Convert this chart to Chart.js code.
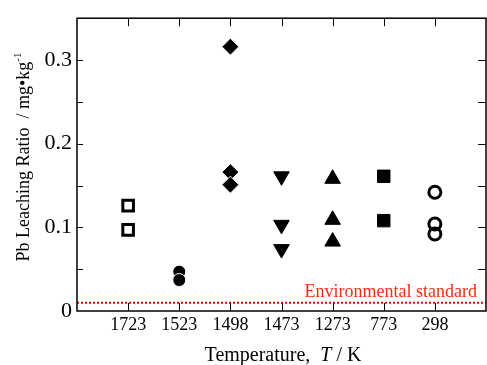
<!DOCTYPE html>
<html>
<head>
<meta charset="utf-8">
<script src="https://cdn.jsdelivr.net/npm/chart.js@4.4.0/dist/chart.umd.min.js"></script>
<style>
  body { margin: 0; background: #fff; }
</style>
</head>
<body>
<canvas id="myChart" width="487" height="365"></canvas>
<script>
// categories on the x axis (temperature, K)
const categories = ['1723', '1523', '1498', '1473', '1273', '773', '298'];
const yTickLabels = ['0', '0.1', '0.2', '0.3'];

// Pb leaching ratio, mg/kg
const openSquare = [0.126, 0.097];         // 1723 K
const filledCircle = [0.047, 0.037];       // 1523 K
const diamond = [0.316, 0.166, 0.151];     // 1498 K
const downTriangle = [0.161, 0.103, 0.074]; // 1473 K
const upTriangle = [0.158, 0.109, 0.083];  // 1273 K
const filledSquare = [0.161, 0.108];       // 773 K
const openCircle = [0.142, 0.104, 0.092];  // 298 K
const standard = 0.01;

const FONT = "'Liberation Serif', 'Times New Roman', serif";
var ctx = document.getElementById('myChart').getContext('2d');

function pts(catIndex, values) {
    return values.map(v => ({ x: catIndex + 1, y: v }));
}

function markerSet(catIndex, values, style, opts) {
    return Object.assign({
        data: pts(catIndex, values),
        pointStyle: style,
        backgroundColor: '#000',
        borderColor: '#000',
        borderWidth: 1,
        showLine: false
    }, opts);
}

// frame with inward ticks, titles, and the standard label
const decorations = {
    id: 'decorations',
    afterDraw(chart) {
        const c = chart.ctx;
        const a = chart.chartArea;
        const xs = chart.scales.x;
        const ys = chart.scales.y;
        c.save();
        c.strokeStyle = '#000';
        c.lineWidth = 1.5;
        c.strokeRect(a.left, a.top, a.right - a.left, a.bottom - a.top);

        c.lineWidth = 1;
        c.beginPath();
        for (let i = 0; i < categories.length; i++) {
            const px = Math.round(xs.getPixelForValue(i + 1)) + 0.5;
            c.moveTo(px, a.bottom); c.lineTo(px, a.bottom - 8);
            c.moveTo(px, a.top); c.lineTo(px, a.top + 8);
        }
        for (let v = 0.05; v < 0.35; v += 0.05) {
            const py = Math.round(ys.getPixelForValue(v)) + 0.5;
            c.moveTo(a.left, py); c.lineTo(a.left + 6, py);
            c.moveTo(a.right, py); c.lineTo(a.right - 8, py);
        }
        c.stroke();

        // standard label
        c.fillStyle = '#ff2a10';
        c.font = '18px ' + FONT;
        c.textAlign = 'right';
        c.textBaseline = 'alphabetic';
        c.fillText('Environmental standard', 477, ys.getPixelForValue(standard) - 6);

        // x title
        c.fillStyle = '#000';
        c.textAlign = 'left';
        const p1 = 'Temperature,  ', p2 = 'T', p3 = ' / K';
        c.font = '20px ' + FONT;
        const w1 = c.measureText(p1).width, w3 = c.measureText(p3).width;
        c.font = 'italic 20px ' + FONT;
        const w2 = c.measureText(p2).width;
        let x0 = 283 - (w1 + w2 + w3) / 2;
        const yb = 361;
        c.font = '20px ' + FONT;
        c.fillText(p1, x0, yb);
        c.font = 'italic 20px ' + FONT;
        c.fillText(p2, x0 + w1, yb);
        c.font = '20px ' + FONT;
        c.fillText(p3, x0 + w1 + w2, yb);

        // y title, rotated
        c.translate(29, 157);
        c.rotate(-Math.PI / 2);
        const q1 = 'Pb Leaching Ratio  / mg\u2022kg', q2 = '-1';
        c.font = '18px ' + FONT;
        const v1 = c.measureText(q1).width;
        c.font = '11px ' + FONT;
        const v2 = c.measureText(q2).width;
        const sx = -(v1 + v2) / 2;
        c.font = '18px ' + FONT;
        c.fillText(q1, sx, 0);
        c.font = '11px ' + FONT;
        c.fillText(q2, sx + v1, -8);
        c.restore();
    }
};

const chart = new Chart(ctx, {
    type: 'scatter',
    data: {
        datasets: [
            {
                data: [{ x: 0, y: standard }, { x: 8, y: standard }],
                showLine: true,
                pointRadius: 0,
                borderColor: '#ff0000',
                borderWidth: 2,
                borderDash: [2, 2]
            },
            markerSet(0, openSquare, 'rect', { backgroundColor: '#fff', borderWidth: 3, pointRadius: 7.5 }),
            markerSet(1, filledCircle, 'circle', { pointRadius: 6.5, borderColor: '#fff', borderWidth: 1 }),
            markerSet(2, diamond, 'rectRot', { pointRadius: 8.5, borderColor: '#fff', borderWidth: 1 }),
            markerSet(3, downTriangle, 'triangle', { pointRadius: 9, rotation: 180 }),
            markerSet(4, upTriangle, 'triangle', { pointRadius: 9 }),
            markerSet(5, filledSquare, 'rect', { pointRadius: 8.8 }),
            markerSet(6, openCircle, 'circle', { backgroundColor: 'rgba(0,0,0,0)', borderWidth: 3, pointRadius: 6 })
        ]
    },
    options: {
        responsive: false,
        animation: false,
        devicePixelRatio: 1,
        layout: { autoPadding: false, padding: { top: 14, right: 1, left: 0, bottom: 0 } },
        plugins: { legend: { display: false }, tooltip: { enabled: false } },
        scales: {
            x: {
                type: 'linear',
                min: 0,
                max: 8,
                grid: { display: false, drawTicks: false },
                border: { display: false },
                afterBuildTicks: (scale) => {
                    scale.ticks = categories.map((c, i) => ({ value: i + 1 }));
                },
                afterFit: (scale) => { scale.height = 54; },
                ticks: {
                    padding: 3,
                    maxRotation: 0,
                    autoSkip: false,
                    color: '#000',
                    font: { family: FONT, size: 18 },
                    callback: (value) => categories[value - 1]
                }
            },
            y: {
                min: 0,
                max: 0.35,
                grid: { display: false, drawTicks: false },
                border: { display: false },
                afterFit: (scale) => { scale.width = 77; },
                ticks: {
                    stepSize: 0.05,
                    padding: 5,
                    color: '#000',
                    font: { family: FONT, size: 22 },
                    callback: (value) => {
                        const k = Math.round(value * 20);
                        return k % 2 === 0 ? yTickLabels[k / 2] : '';
                    }
                }
            }
        }
    },
    plugins: [decorations]
});
</script>
</body>
</html>
